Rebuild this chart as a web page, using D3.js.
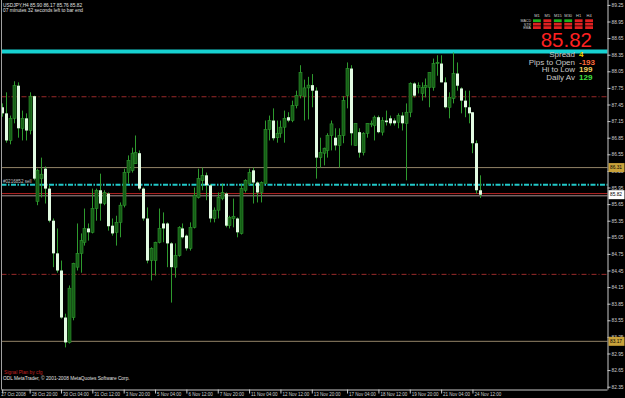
<!DOCTYPE html>
<html><head><meta charset="utf-8">
<script src="https://cdn.jsdelivr.net/npm/d3@7"></script>
<style>body{margin:0;background:#000;overflow:hidden} svg{display:block}</style>
</head><body>
<svg id="c" width="625" height="398"></svg>
<script>
// ---------- DATA (USDJPY H4, 123 bars) ----------
const barOpen = [
 87.40,87.29,86.80,87.20,87.79,87.02,87.20,86.98,87.60,85.70,
 86.11,86.29,85.93,85.35,84.76,84.45,83.60,83.15,83.60,84.51,
 84.76,84.96,85.21,85.14,85.57,85.90,85.66,85.84,85.26,85.14,
 85.32,85.63,86.22,86.26,86.38,86.57,85.93,85.39,84.63,84.63,
 84.96,85.30,85.30,84.94,84.51,84.72,85.21,85.08,84.85,85.23,
 85.77,86.08,86.17,85.99,85.39,85.54,85.75,85.84,85.26,85.39,
 85.39,85.12,85.90,86.02,86.26,86.04,85.86,86.02,87.00,87.16,
 86.85,86.93,87.04,87.22,87.16,87.43,87.61,87.60,87.75,87.80,
 87.70,86.49,86.57,86.62,86.89,86.85,86.71,86.89,87.61,88.10,
 86.71,86.95,86.58,86.93,87.09,87.07,87.22,86.95,87.16,87.20,
 87.16,87.13,87.25,87.11,87.31,87.83,87.76,87.65,87.76,87.76,
 87.76,88.19,88.19,87.85,87.40,87.56,88.01,87.74,87.52,87.40,
 87.31,86.75,85.90];
const barHigh = [
 87.47,87.67,87.25,87.87,87.85,87.34,87.29,87.67,87.61,86.29,
 86.49,86.33,85.99,85.39,85.21,84.63,83.67,84.18,84.59,85.30,
 85.12,85.57,85.30,85.93,85.93,86.20,85.90,85.86,85.39,85.44,
 85.68,86.29,86.53,86.67,86.89,86.62,85.95,85.59,84.87,84.97,
 85.57,85.50,85.32,84.96,84.94,85.25,85.30,85.10,85.32,85.95,
 86.29,86.31,86.22,86.01,85.59,85.86,86.02,85.86,85.44,85.75,
 85.41,86.02,86.10,86.29,86.31,86.06,86.06,87.16,87.25,87.38,
 87.16,87.16,87.34,87.31,87.52,87.70,88.16,87.90,87.95,88.00,
 87.76,86.85,86.67,86.93,87.16,87.02,87.02,87.60,88.21,88.16,
 87.11,87.02,86.95,87.11,87.16,87.25,87.25,87.22,87.34,87.25,
 87.20,87.29,87.31,87.47,87.85,87.85,87.85,87.85,87.92,88.03,
 88.28,88.34,88.34,87.94,87.67,88.39,88.21,87.76,87.70,87.70,
 87.31,86.80,86.17];
const barLow = [
 87.23,86.76,86.73,87.11,86.85,86.80,86.80,86.91,86.08,85.63,
 85.77,85.66,85.32,84.51,84.41,83.58,83.06,83.13,83.55,84.45,
 84.41,84.90,84.99,85.12,85.35,85.35,85.63,85.17,85.08,84.90,
 85.05,85.59,86.02,86.22,86.38,85.90,85.35,84.58,84.27,84.36,
 84.94,84.96,84.51,83.87,84.32,84.70,85.03,84.81,84.81,85.21,
 85.75,85.90,85.72,85.32,85.32,85.39,85.72,85.23,85.21,85.23,
 85.05,85.10,85.86,85.99,85.66,85.68,85.68,86.02,86.80,86.80,
 86.76,86.85,86.76,87.13,87.13,87.38,87.56,87.16,87.18,87.40,
 86.11,86.31,86.35,86.49,86.62,86.62,86.31,86.75,87.38,86.71,
 86.71,86.49,86.53,86.85,87.04,86.80,86.93,86.89,87.07,87.07,
 87.07,87.02,86.98,86.08,87.22,87.58,87.65,87.52,87.58,87.40,
 87.70,87.97,87.85,87.38,87.20,87.47,87.70,87.29,87.22,87.11,
 86.57,85.84,85.76];
const barClose = [
 87.29,86.80,87.20,87.79,87.02,87.20,86.98,87.60,86.11,86.26,
 86.19,85.93,85.35,84.76,84.45,83.60,83.15,84.13,84.58,84.76,
 84.99,85.21,85.14,85.57,85.90,85.66,85.86,85.25,85.12,85.32,
 85.63,86.22,86.44,86.57,86.58,85.93,85.39,84.63,84.85,84.96,
 85.21,85.21,84.94,84.51,84.72,85.23,85.05,84.85,85.23,85.81,
 86.11,86.17,85.99,85.39,85.54,85.77,85.86,85.26,85.41,85.43,
 85.14,85.93,86.08,86.22,86.04,85.86,86.04,87.00,87.16,86.84,
 86.93,87.04,87.20,87.16,87.43,87.61,88.03,87.75,87.80,87.70,
 86.49,86.58,86.66,86.89,87.10,86.71,86.89,87.52,88.10,86.93,
 87.11,86.58,86.93,87.11,87.11,87.22,86.95,87.16,87.13,87.11,
 87.11,87.25,87.11,87.31,87.83,87.61,87.79,87.76,87.79,88.03,
 88.19,88.21,87.85,87.40,87.58,88.01,87.79,87.52,87.40,87.29,
 86.75,85.90,85.82];

const timeTickIndex  = [0,7,15,23,31,39,47,55,63,71,79,88,96,104,112,120];
const timeTickLabels = ["27 Oct 2008","28 Oct 20:00","30 Oct 04:00","31 Oct 12:00","3 Nov 20:00","5 Nov 04:00","6 Nov 12:00","7 Nov 20:00","11 Nov 04:00","12 Nov 12:00","13 Nov 20:00","17 Nov 04:00","18 Nov 12:00","19 Nov 20:00","21 Nov 04:00","24 Nov 12:00"];
const priceTicks = [89.25,88.95,88.65,88.35,88.05,87.75,87.45,87.15,86.85,86.55,86.25,85.95,85.65,85.35,85.05,84.75,84.45,84.15,83.85,83.55,83.25,82.95,82.65,82.35];

const weekHigh = 88.41;
const orderPrice = 86.00;
const pivotLevels = [87.59, 84.38];
const tanLevels = [86.31, 83.17];
const bidPrice = 85.84, askPrice = 85.80;

const tfNames = ["M1","M5","M15","M30","H1","H4"];
const sigRows = ["MACD","STR","EMA"];
const sigUp = [[1,0,1,1,0,0],[0,0,0,0,0,0],[0,0,0,0,0,0]];
const statLabels = ["Spread","Pips to Open","Hi to Low","Daily Av"];
const statValues = ["4","-193","199","129"];
const statColors = ["#f0d000","#ff6a3a","#f0d060","#40e040"];

// ---------- DRAW ----------
const FONT = "Liberation Sans";
const svg = d3.select("#c");
svg.append("rect").attr("width",625).attr("height",398).attr("fill","#000");
const N = barClose.length, last = N-1;

const x = d3.scaleLinear().domain([0,122]).range([2.2,480.3]);
const y = d3.scaleLinear().domain([82.35,89.25]).range([386.7,4.9]);
const plotL = 1.5, plotR = 607.5, plotB = 389.5;

const lv = svg.append("g");
function hline(p, color, w, dash){
  const l = lv.append("line").attr("x1",plotL).attr("x2",plotR).attr("y1",y(p)).attr("y2",y(p))
    .attr("stroke",color).attr("stroke-width",w);
  if (dash) l.attr("stroke-dasharray",dash);
}
pivotLevels.forEach(p=>hline(p,"#9a2a2a",1,"5,2,1,2"));
tanLevels.forEach(p=>hline(p,"#938468",1));
hline(askPrice,"#a89090",1);
hline(bidPrice,"#b82424",1);
hline(orderPrice,"#22c8c8",2,"5,1.5,1.5,1.5");
hline(weekHigh,"#17d2d2",4);

const cg = svg.append("g");
for (let i=0;i<N;i++){
  const o = barOpen[i], c = barClose[i], bull = c>=o;
  const cx = Math.round(x(i))+0.5;
  cg.append("line").attr("x1",cx).attr("x2",cx).attr("y1",y(barHigh[i])).attr("y2",y(barLow[i]))
    .attr("stroke","#2e9a2e").attr("stroke-width",1);
  const top = y(Math.max(o,c)), bot = y(Math.min(o,c));
  cg.append("rect").attr("x",cx-1.5).attr("width",3).attr("y",top).attr("height",Math.max(1,bot-top))
    .attr("fill", bull ? "#165c16" : "#e2fbe2").attr("stroke", bull ? "#2e9a2e" : "none").attr("stroke-width",0.6);
}

svg.append("line").attr("x1",plotL).attr("x2",plotL).attr("y1",0).attr("y2",plotB).attr("stroke","#a0a0a0");

const ya = svg.append("g").attr("transform",`translate(${plotR},0)`)
  .call(d3.axisRight(y).tickValues(priceTicks).tickSize(3).tickPadding(1).tickFormat(d3.format(".2f")));
ya.select(".domain").attr("stroke","#c8c8c8").attr("d",`M0.5,0V${plotB}`);
ya.selectAll(".tick line").attr("stroke","#c8c8c8");
ya.selectAll("text").attr("fill","#d0d0d0").attr("font-family",FONT).attr("font-size",4.8);

const xa = svg.append("g").attr("transform",`translate(0,${plotB})`)
  .call(d3.axisBottom(x).tickValues(timeTickIndex).tickSize(4).tickFormat((d,i)=>timeTickLabels[i]));
xa.select(".domain").attr("stroke","#c8c8c8").attr("d",`M${plotL},0.5H${plotR}`);
xa.selectAll(".tick line").attr("stroke","#c8c8c8");
xa.selectAll("text").attr("fill","#d0d0d0").attr("font-family",FONT).attr("font-size",4.5)
  .attr("text-anchor","start").attr("dx",(d,i)=> i===0 ? -1.5 : 1.5).attr("y",3).attr("dy","0.71em");

function box(p, bg, fg){
  const g = svg.append("g").attr("transform",`translate(${plotR+1},${y(p)})`);
  g.append("rect").attr("x",0).attr("y",-4.5).attr("width",16).attr("height",9).attr("fill",bg);
  g.append("text").attr("x",1.5).attr("y",0).attr("dy","0.35em").attr("fill",fg)
   .attr("font-family",FONT).attr("font-size",4.8).text(d3.format(".2f")(p));
}
tanLevels.forEach(p=>box(p,"#c9a23a","#000"));
box(barClose[last],"#ffffff","#000");

function txt(xx,yy,s,color,size){
  return svg.append("text").attr("x",xx).attr("y",yy).attr("fill",color).attr("font-family",FONT).attr("font-size",size).text(s);
}
txt(3,7,`USDJPY,H4  ${barOpen[last].toFixed(2)} ${barHigh[last].toFixed(2)} ${barLow[last].toFixed(2)} ${barClose[last].toFixed(2)}`,"#e0e0e0",4.8);
txt(3,12,"07 minutes 32 seconds left to bar end","#e0e0e0",4.8);
txt(3,y(orderPrice)-2,"#0216852 sell","#c0c0c0",4.6);
txt(4,374,"Signal Plan by cfg","#c02020",4.8);
txt(3,380,"ODL MetaTrader, © 2001-2008 MetaQuotes Software Corp.","#e0e0e0",4.8);

const gx = d3.scaleBand().domain(tfNames).range([533,593]).paddingInner(0.25);
const gy = d3.scaleBand().domain(sigRows).range([19.3,29]).paddingInner(0.2);
const sg = svg.append("g");
tfNames.forEach(t=>sg.append("text").attr("x",gx(t)+gx.bandwidth()/2).attr("y",17).attr("text-anchor","middle")
  .attr("fill","#d0d0d0").attr("font-family",FONT).attr("font-size",4).text(t));
sigRows.forEach((r,ri)=>{
  sg.append("text").attr("x",531).attr("y",gy(r)+gy.bandwidth()).attr("text-anchor","end")
    .attr("fill","#d0d0d0").attr("font-family",FONT).attr("font-size",3.6).text(r);
  tfNames.forEach((t,ti)=>sg.append("rect").attr("x",gx(t)).attr("y",gy(r)).attr("width",gx.bandwidth()).attr("height",gy.bandwidth())
    .attr("fill", sigUp[ri][ti] ? "#1fb01f" : "#e02020"));
});
svg.append("text").attr("x",592).attr("y",47).attr("text-anchor","end").attr("fill","#ff2020")
  .attr("font-family",FONT).attr("font-size",20.5).text(barClose[last].toFixed(2));

statLabels.forEach((s,i)=>{
  const yy = 57 + i*7.7;
  svg.append("text").attr("x",575).attr("y",yy).attr("text-anchor","end").attr("fill","#c8c8c8")
    .attr("font-family",FONT).attr("font-size",8).text(s);
  svg.append("text").attr("x",579).attr("y",yy).attr("fill",statColors[i])
    .attr("font-family",FONT).attr("font-size",8).attr("font-weight","bold").text(statValues[i]);
});
</script>
</body></html>
